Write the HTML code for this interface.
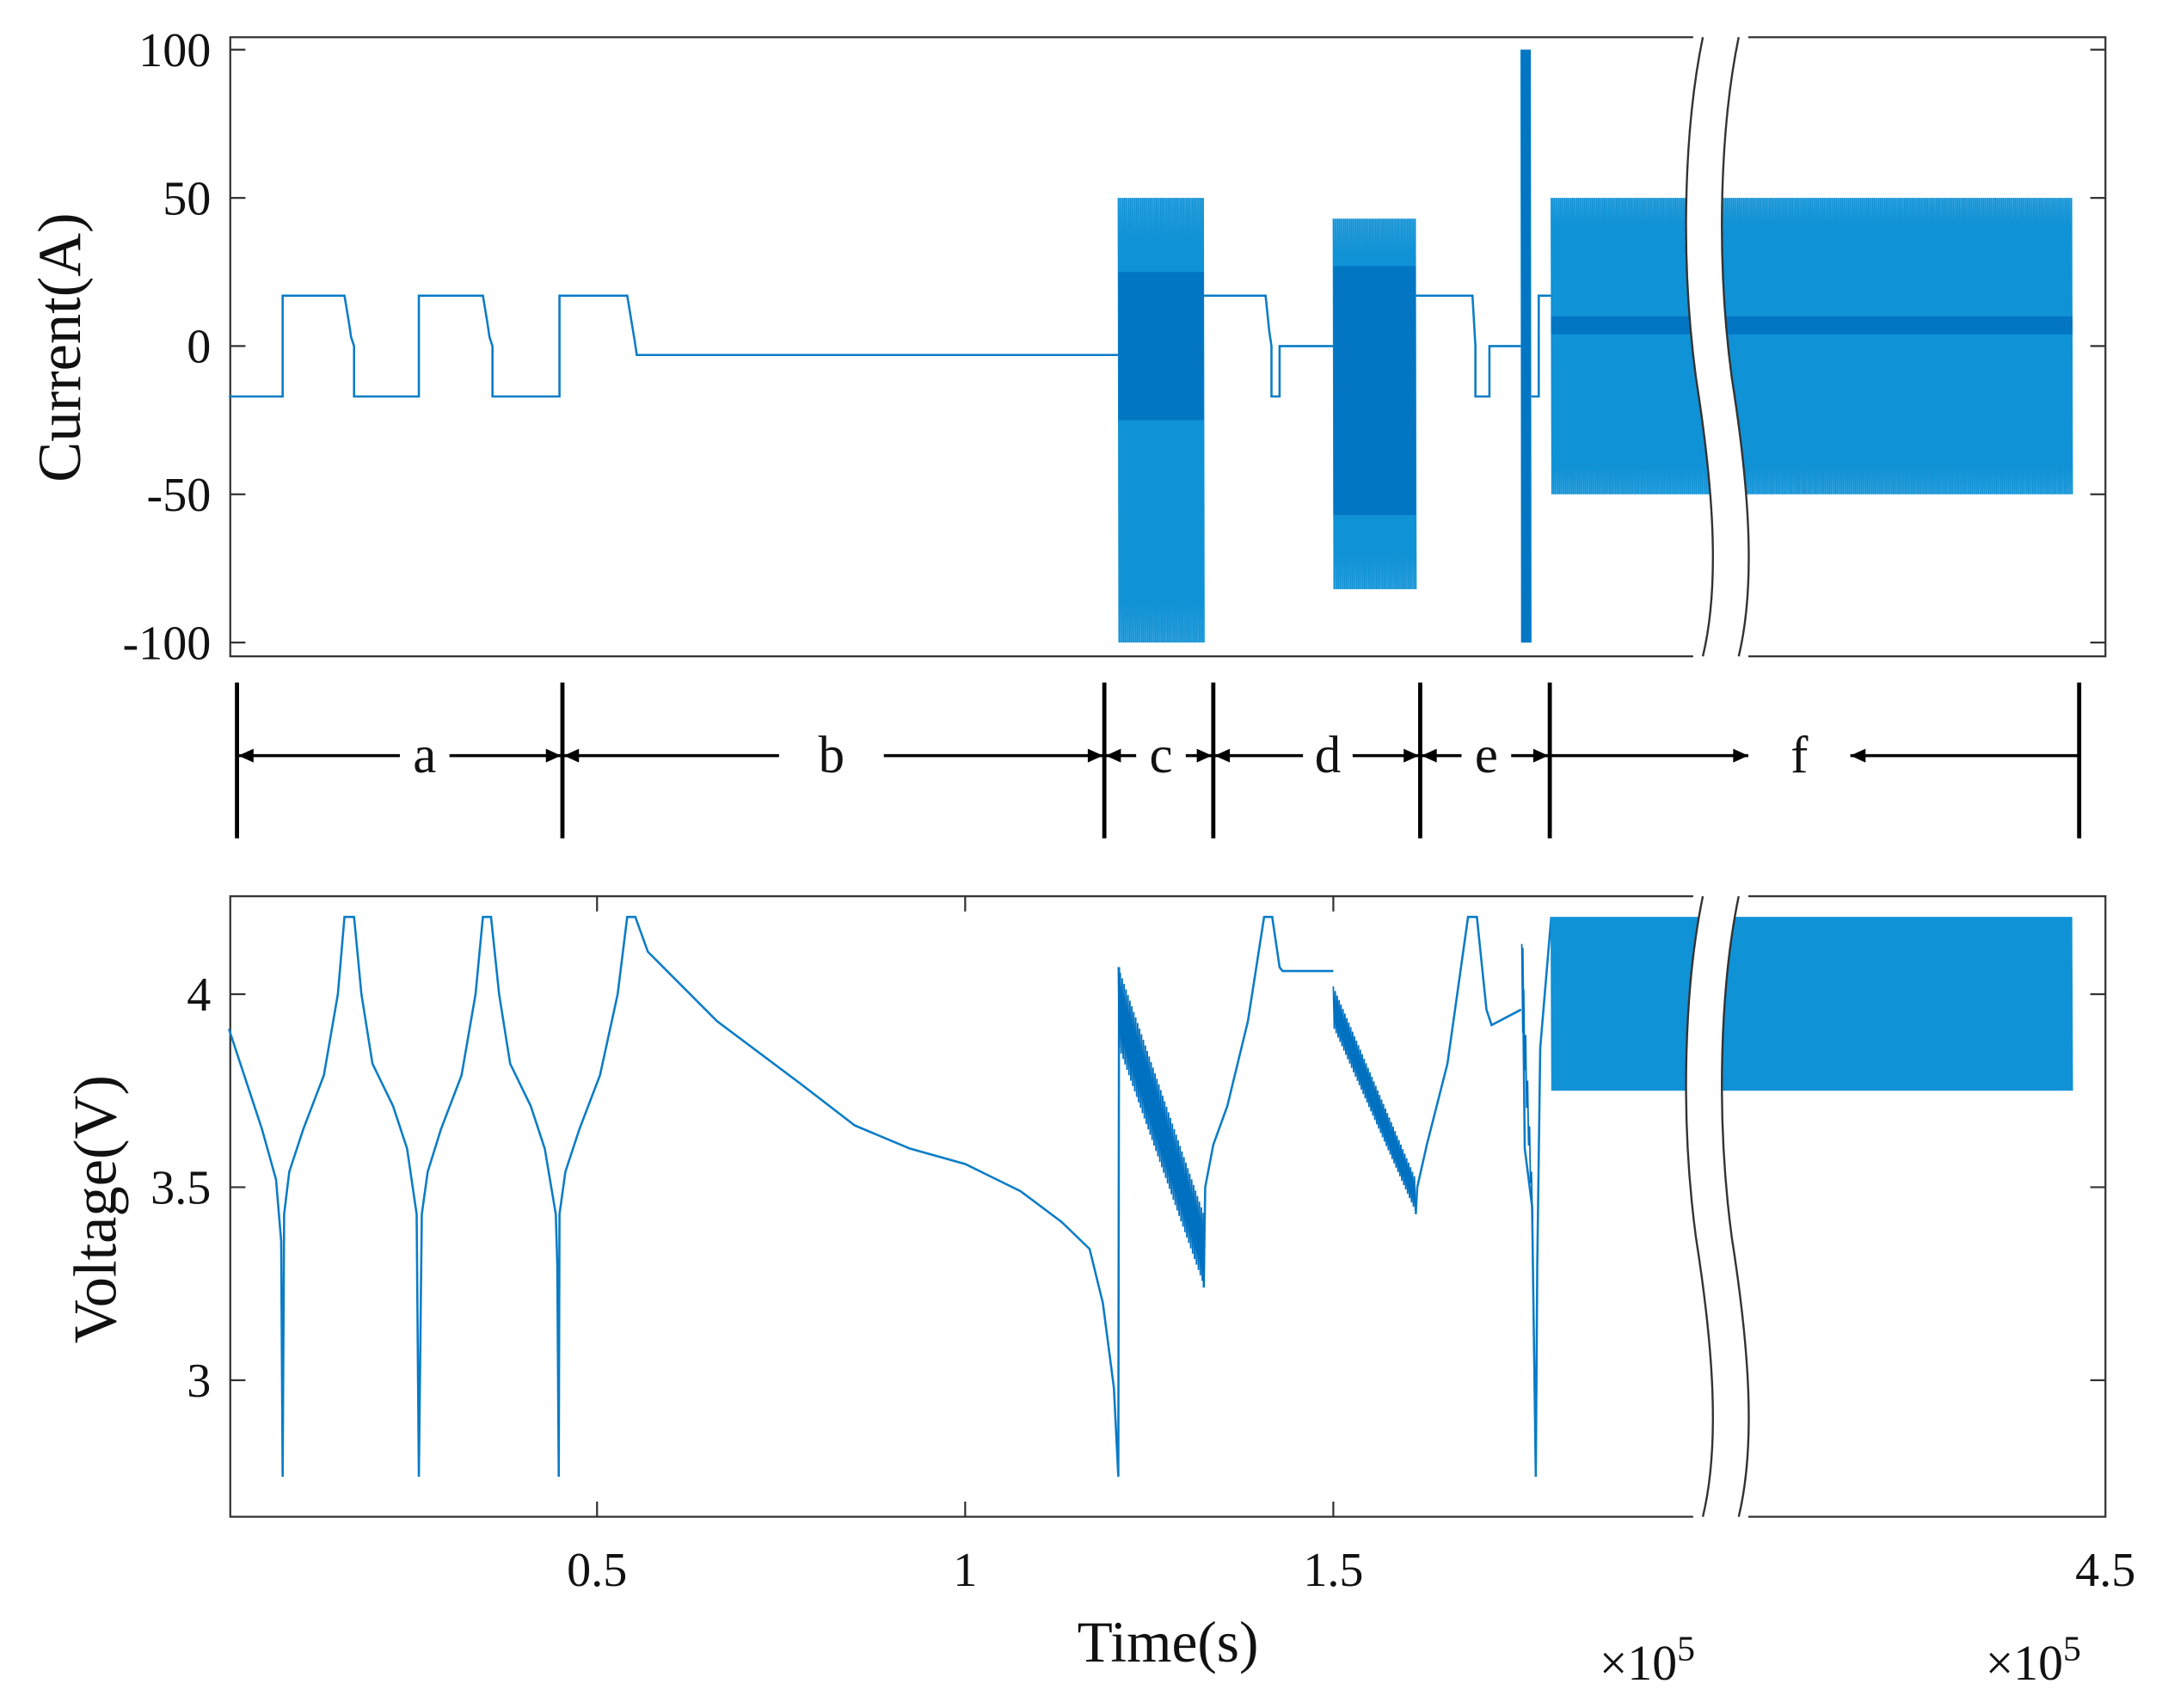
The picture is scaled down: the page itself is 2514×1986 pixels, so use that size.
<!DOCTYPE html>
<html><head><meta charset="utf-8"><style>
html,body{margin:0;padding:0;background:#fff}
svg{display:block}
text{font-family:"Liberation Serif",serif;fill:#111}
</style></head><body>
<svg id="chart" width="2514" height="1986" viewBox="0 0 1568 1238.7" xmlns="http://www.w3.org/2000/svg">
<g id="gtop"></g><g id="gmid"></g><g id="gbot"></g><g id="glabels"></g>
</svg>
<script>
// ---------- data ----------
const curSegT = [[0,0.073,0.073,0.157,0.163,0.166,0.170,0.170,0.258,0.258,0.345,0.351,0.354,0.358,0.358,0.449,0.449,0.541,0.547,0.551,0.554,1.208],
  [1.324,1.408,1.413,1.416,1.416,1.427,1.427,1.5],
  [1.612,1.689,1.693,1.693,1.712,1.712,1.755],
  [1.768,1.779,1.779,1.796]];
const curSegI = [[-17,-17,17,17,8,3,0,-17,-17,17,17,8,3,0,-17,-17,17,17,8,2,-3,-3],
  [17,17,5,0,-17,-17,0,0],
  [17,17,0,-17,-17,0,0],
  [-17,-17,17,17]];
const curBurstStart = [1.208,1.5,1.755,1.796];
const curBurstEnd = [1.324,1.612,1.768,2.504];
const curBurstHigh = [50,43,100,50];
const curBurstLow = [-100,-82,-100,-50];
const curBurstInHigh = [25,27,100,10];
const curBurstInLow = [-25,-57,-100,4];
const voltT = [0,0.045,0.064,0.071,0.073,0.075,0.082,0.101,0.129,0.148,0.157,0.170,0.180,0.195,0.223,0.242,0.255,0.258,0.262,0.270,0.288,0.316,0.335,0.345,0.356,0.367,0.382,0.410,0.429,0.444,0.446,0.448,0.449,0.457,0.476,0.504,0.528,0.541,0.552,0.569,0.663,0.775,0.850,0.925,1.0,1.075,1.131,1.169,1.187,1.202,1.208,1.209];
const voltV = [3.91,3.65,3.52,3.36,2.75,3.43,3.54,3.65,3.79,4.0,4.2,4.2,4.0,3.82,3.71,3.6,3.43,2.75,3.43,3.54,3.65,3.79,4.0,4.2,4.2,4.0,3.82,3.71,3.6,3.43,3.3,2.75,3.43,3.54,3.65,3.79,4.0,4.2,4.2,4.11,3.93,3.77,3.66,3.6,3.56,3.49,3.41,3.34,3.2,2.98,2.75,4.07];
const volt2T = [1.324,1.326,1.337,1.356,1.384,1.406,1.417,1.427,1.431,1.5];
const volt2V = [3.24,3.5,3.61,3.71,3.93,4.2,4.2,4.07,4.06,4.06];
const volt3T = [1.612,1.614,1.627,1.655,1.683,1.695,1.708,1.715,1.755];
const volt3V = [3.43,3.5,3.61,3.82,4.2,4.2,3.96,3.92,3.96];
const volt4T = [1.757,1.760,1.770,1.775,1.777,1.781,1.792,1.796];
const volt4V = [4.12,3.6,3.45,2.75,3.3,3.86,4.11,4.2];
const vBurstStart = [1.208,1.5,1.756,1.796];
const vBurstEnd = [1.324,1.612,1.770,2.504];
const vBurstTop0 = [4.07,4.02,4.13,4.2];
const vBurstTop1 = [3.43,3.52,3.5,4.2];
const vBurstBot0 = [3.86,3.91,3.9,3.75];
const vBurstBot1 = [3.24,3.43,3.38,3.75];
const yTicksI = [100,50,0,-50,-100];
const yTicksV = [4,3.5,3];
const xTicks = [0.5,1,1.5];
const xTickLabels = ["0.5","1","1.5"];
const phaseBounds = [0.011,0.453,1.189,1.337,1.618,1.794,2.513];
const phaseNames = ["a","b","c","d","e","f"];

const NS="http://www.w3.org/2000/svg";
const L=167,R=1527;
const xS=t=>166+t*534;
const yI=v=>251-v*2.15;
const yV=v=>721-(v-4)*280;
const T1=27,B1=476,T2=650,B2=1100;
const C1="#0a7cc6",C2="#1092d6",CD="#0070c0";
function el(tag,attrs,parent){const e=document.createElementNS(NS,tag);for(const k in attrs)e.setAttribute(k,attrs[k]);parent.appendChild(e);return e;}
const gTop=document.getElementById('gtop'),gBot=document.getElementById('gbot'),gMid=document.getElementById('gmid'),gLab=document.getElementById('glabels');

function axesBox(g,T,B,name){
  const r=el('rect',{x:L,y:T,width:R-L,height:B-T,fill:'#fff',stroke:'#333','stroke-width':1.4},g);
  
  
}
axesBox(gTop,T1,B1,'current-axes');
axesBox(gBot,T2,B2,'voltage-axes');

curSegT.forEach((ts,i)=>{
  const p=el('polyline',{points:ts.map((t,j)=>xS(t)+','+yI(curSegI[i][j])).join(' '),fill:'none',stroke:C1,'stroke-width':1.6},gTop);
  
  
});
curBurstStart.forEach((s,i)=>{
  const x0=xS(s),x1=xS(curBurstEnd[i]);
  let pts=[];
  for(let x=x0;x<=x1;x+=1.1){pts.push(x+','+yI(curBurstHigh[i]));pts.push((x+0.55)+','+yI(curBurstLow[i]));}
  const p=el('polyline',{points:pts.join(' '),fill:'none',stroke:C2,'stroke-width':1.0},gTop);
  
  
  const r=el('rect',{x:x0,y:yI(curBurstInHigh[i]),width:x1-x0,height:Math.max(2,yI(curBurstInLow[i])-yI(curBurstInHigh[i])),fill:CD,opacity:0.85},gTop);
  
  
});

[[voltT,voltV],[volt2T,volt2V],[volt3T,volt3V],[volt4T,volt4V]].forEach(([ts,vs],i)=>{
  const p=el('polyline',{points:ts.map((t,j)=>xS(t)+','+yV(vs[j])).join(' '),fill:'none',stroke:C1,'stroke-width':1.6},gBot);
  
  
});
vBurstStart.forEach((s,i)=>{
  const x0=xS(s),x1=xS(vBurstEnd[i]);let pts=[];
  const step=i==3?1.1:1.4;
  for(let x=x0;x<=x1;x+=step){const f=(x-x0)/(x1-x0);
    const tp=vBurstTop0[i]+(vBurstTop1[i]-vBurstTop0[i])*f, bt=vBurstBot0[i]+(vBurstBot1[i]-vBurstBot0[i])*f;
    pts.push(x+','+yV(tp));pts.push((x+step/2)+','+yV(bt));}
  const p=el('polyline',{points:pts.join(' '),fill:'none',stroke:i==3?C2:CD,'stroke-width':1.1},gBot);
  
  
});

function tick(g,x1,y1,x2,y2){el('line',{x1,y1,x2,y2,stroke:'#333','stroke-width':1.4},g);}
yTicksI.forEach(v=>{const y=yI(v);tick(gTop,L,y,L+11,y);tick(gTop,R,y,R-11,y);
  const t=el('text',{x:153,y:y+12,'text-anchor':'end','font-size':35},gTop);t.textContent=v;
  });
yTicksV.forEach(v=>{const y=yV(v);tick(gBot,L,y,L+11,y);tick(gBot,R,y,R-11,y);
  const t=el('text',{x:153,y:y+12,'text-anchor':'end','font-size':35},gBot);t.textContent=v;
  });
xTicks.forEach((v,i)=>{const x=xS(v);tick(gBot,x,B2,x,B2-11);tick(gBot,x,T2,x,T2+11);
  const t=el('text',{x:x,y:1150,'text-anchor':'middle','font-size':35},gBot);t.textContent=xTickLabels[i];
  });
{const t=el('text',{x:1527,y:1150,'text-anchor':'middle','font-size':35},gBot);t.textContent='4.5';
 }

function brk(g,T,B,name){
  const h=B-T;
  const segs=[[1235,T,1222,T+0.14*h,1218,T+0.35*h,1230,T+0.55*h],[1230,T+0.55*h,1242,T+0.72*h,1248,T+0.88*h,1235,B]];
  const left=[];
  segs.forEach(q=>{for(let u=0;u<=1.0001;u+=0.05){const a=(1-u)**3,b=3*u*(1-u)**2,c=3*u*u*(1-u),e=u**3;
    left.push([a*q[0]+b*q[2]+c*q[4]+e*q[6],a*q[1]+b*q[3]+c*q[5]+e*q[7]]);}});
  const poly=left.map(p=>p[0]+','+p[1]).concat(left.slice().reverse().map(p=>(p[0]+26)+','+p[1]));
  const pg=el('polygon',{points:poly.join(' '),fill:'#fff'},g);
  
  el('rect',{x:1228,y:T-2,width:40,height:3,fill:'#fff'},g);
  el('rect',{x:1228,y:B-1,width:40,height:3,fill:'#fff'},g);
  const d=(dx)=>`M${1235+dx},${T} C${1222+dx},${T+0.14*h} ${1218+dx},${T+0.35*h} ${1230+dx},${T+0.55*h} C${1242+dx},${T+0.72*h} ${1248+dx},${T+0.88*h} ${1235+dx},${B}`;
  el('path',{d:d(0),fill:'none',stroke:'#333','stroke-width':1.5},g);
  el('path',{d:d(26),fill:'none',stroke:'#333','stroke-width':1.5},g);
}
brk(gTop,T1,B1,'current-axis-break');
brk(gBot,T2,B2,'voltage-axis-break');

const letterPos=[308,603,842,963,1078,1305];
phaseBounds.forEach(t=>{const x=xS(t);const l=el('line',{x1:x,y1:495,x2:x,y2:608,stroke:'#000','stroke-width':3},gMid);
  });
function arrow(xa,xb){
  el('line',{x1:xa,y1:548,x2:xb,y2:548,stroke:'#000','stroke-width':2.2},gMid);
  const s=xb>xa?-1:1;
  el('polygon',{points:`${xb},548 ${xb+s*11},543 ${xb+s*11},553`,fill:'#000'},gMid);
}
phaseNames.forEach((n,i)=>{
  const x0=xS(phaseBounds[i]),x1=xS(phaseBounds[i+1]),lx=letterPos[i];
  const gap=n==='b'?38:n==='f'?37:18;
  if(n==='f'){arrow(x0,lx-gap);arrow(x1,lx+gap);}
  else{arrow(lx-gap,x0+1);arrow(lx+gap,x1-1);}
  const t=el('text',{x:lx,y:560,'text-anchor':'middle','font-size':38},gMid);t.textContent=n;
  
});

function txt(s,attrs,name){const t=el('text',attrs,gLab);t.textContent=s;return t;}
txt('Current(A)',{x:0,y:0,'font-size':44,'text-anchor':'middle',transform:'translate(58,252) rotate(-90)'},'current-axis-title');
txt('Voltage(V)',{x:0,y:0,'font-size':44,'text-anchor':'middle',transform:'translate(84,877) rotate(-90)'},'voltage-axis-title');
txt('Time(s)',{x:847,y:1205,'font-size':42,'text-anchor':'middle'},'time-axis-title');
[1160,1440].forEach((x,i)=>{const t=txt('×10',{x:x,y:1218,'font-size':36},'exponent-label-'+i);
  const s=el('tspan',{dy:-14,'font-size':26},t);s.textContent='5';});
</script>
</body></html>
